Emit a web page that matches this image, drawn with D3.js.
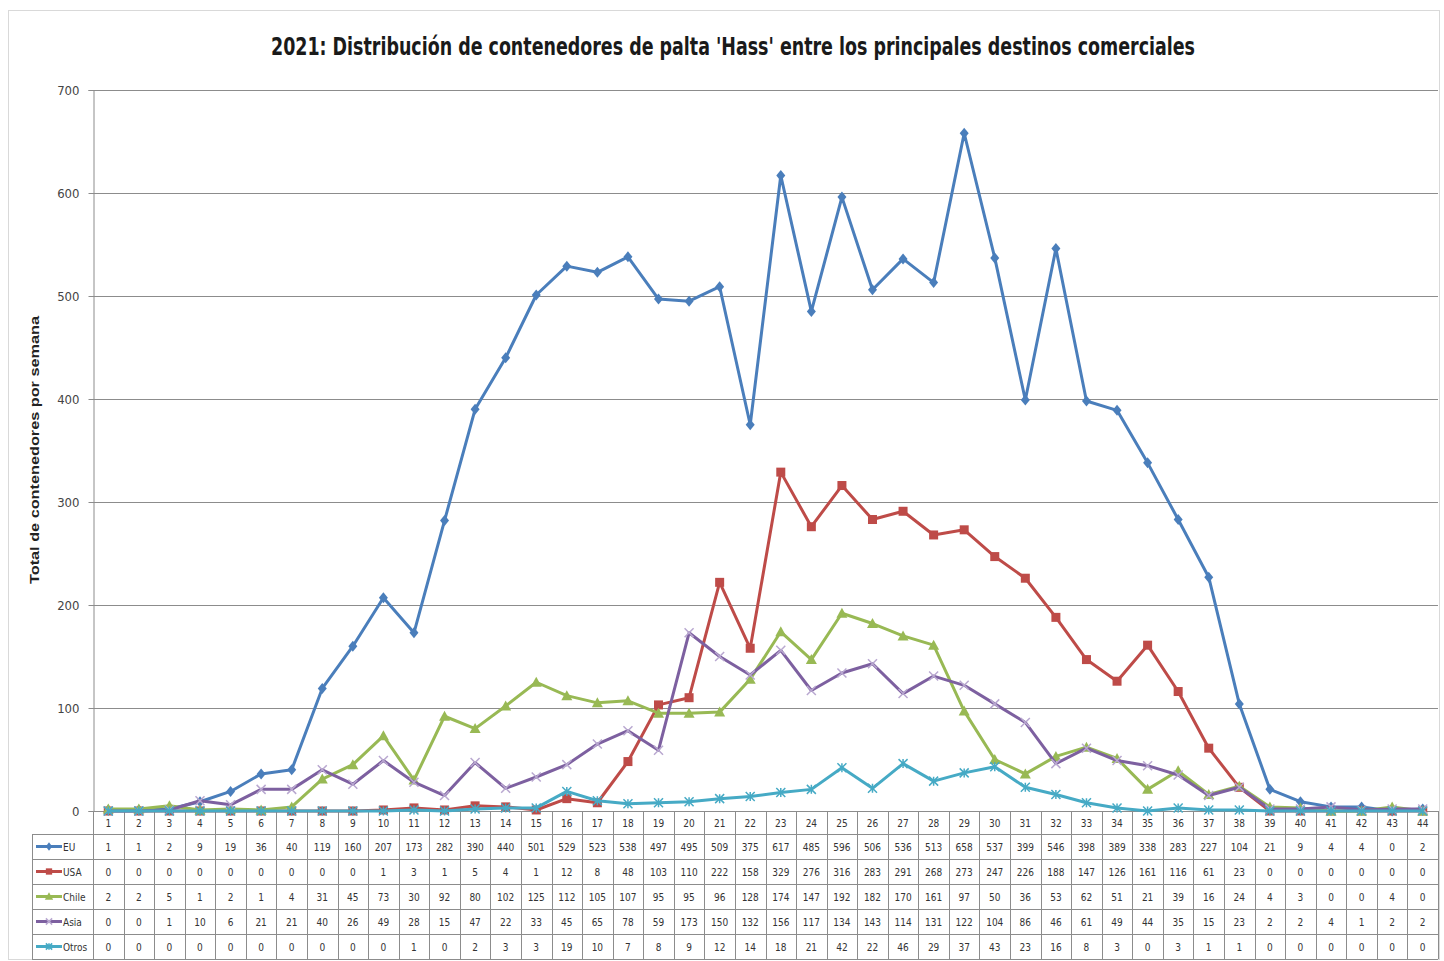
<!DOCTYPE html>
<html>
<head>
<meta charset="utf-8">
<script src="https://cdn.jsdelivr.net/npm/d3@7"></script>
<style>
  body { margin: 0; background: #fff; }
  svg text { font-family: "Liberation Sans Narrow", "DejaVu Sans Condensed", "Liberation Sans", sans-serif; }
</style>
</head>
<body>
<div id="chart"></div>
<script>
// weekly container counts per destination
let weeks = d3.range(1, 45);
let euValues = [1,1,2,9,19,36,40,119,160,207,173,282,390,440,501,529,523,538,497,495,509,375,617,485,596,506,536,513,658,537,399,546,398,389,338,283,227,104,21,9,4,4,0,2];
let usaValues = [0,0,0,0,0,0,0,0,0,1,3,1,5,4,1,12,8,48,103,110,222,158,329,276,316,283,291,268,273,247,226,188,147,126,161,116,61,23,0,0,0,0,0,0];
let chileValues = [2,2,5,1,2,1,4,31,45,73,30,92,80,102,125,112,105,107,95,95,96,128,174,147,192,182,170,161,97,50,36,53,62,51,21,39,16,24,4,3,0,0,4,0];
let asiaValues = [0,0,1,10,6,21,21,40,26,49,28,15,47,22,33,45,65,78,59,173,150,132,156,117,134,143,114,131,122,104,86,46,61,49,44,35,15,23,2,2,4,1,2,2];
let otrosValues = [0,0,0,0,0,0,0,0,0,0,1,0,2,3,3,19,10,7,8,9,12,14,18,21,42,22,46,29,37,43,23,16,8,3,0,3,1,1,0,0,0,0,0,0];
let seriesNames = ["EU", "USA", "Chile", "Asia", "Otros"];
let yTicks = [0, 100, 200, 300, 400, 500, 600, 700];

let series = [
  { name: "EU", values: euValues, color: "#4a7ebb", marker: "diamond" },
  { name: "USA", values: usaValues, color: "#be4b48", marker: "square" },
  { name: "Chile", values: chileValues, color: "#98b954", marker: "triangle" },
  { name: "Asia", values: asiaValues, color: "#7d60a0", marker: "cross" },
  { name: "Otros", values: otrosValues, color: "#46aac5", marker: "star" }
];

let width = 1444, height = 961;
let plot = { left: 93, right: 1438, top: 90, bottom: 811 };
let rowH = 25, headerH = 23;

let svg = d3.select("#chart").append("svg")
  .attr("width", width)
  .attr("height", height);

svg.append("rect")
  .attr("x", 8.5).attr("y", 10.5)
  .attr("width", 1431).attr("height", 949)
  .attr("fill", "#fff")
  .attr("stroke", "#d9d9d9");

let x = d3.scaleBand().domain(weeks).range([plot.left, plot.right]);
let y = d3.scaleLinear().domain([0, 700]).range([plot.bottom, plot.top]);

// title
svg.append("text")
  .attr("x", 733).attr("y", 55)
  .attr("text-anchor", "middle")
  .attr("font-size", 24)
  .attr("font-weight", "bold")
  .attr("fill", "#1a1a1a")
  .attr("textLength", 924)
  .attr("lengthAdjust", "spacingAndGlyphs")
  .text("2021: Distribución de contenedores de palta 'Hass' entre los principales destinos comerciales");

// grid + y axis
svg.append("g").selectAll("line")
  .data(yTicks.filter(d => d > 0))
  .enter().append("line")
  .attr("x1", plot.left).attr("x2", plot.right)
  .attr("y1", d => Math.round(y(d)) + 0.5).attr("y2", d => Math.round(y(d)) + 0.5)
  .attr("stroke", "#8c8c8c");

let yAxis = svg.append("g")
  .attr("transform", "translate(" + (plot.left + 0.5) + ",0)")
  .call(d3.axisLeft(y).tickValues(yTicks).tickSize(5).tickPadding(9));
yAxis.select(".domain").attr("stroke", "#8c8c8c");
yAxis.selectAll(".tick line").attr("stroke", "#8c8c8c");
yAxis.selectAll(".tick text")
  .attr("font-size", 13)
  .attr("fill", "#444")
  .style("font-family", "'Liberation Sans Narrow', 'DejaVu Sans Condensed', sans-serif");

svg.append("text")
  .attr("transform", "translate(39,450) rotate(-90)")
  .attr("text-anchor", "middle")
  .attr("font-size", 12)
  .attr("font-weight", "bold")
  .attr("fill", "#222")
  .attr("textLength", 268)
  .attr("lengthAdjust", "spacingAndGlyphs")
  .style("font-family", "'Liberation Sans', Arial, sans-serif")
  .text("Total de contenedores por semana");

// data table
let table = svg.append("g").attr("class", "table");
let tableTop = plot.bottom + headerH;
let tableLeft = 32;

table.append("line")
  .attr("x1", plot.left).attr("x2", plot.right)
  .attr("y1", plot.bottom + 0.5).attr("y2", plot.bottom + 0.5)
  .attr("stroke", "#8c8c8c");

d3.range(6).forEach(function(i) {
  table.append("line")
    .attr("x1", tableLeft).attr("x2", plot.right)
    .attr("y1", tableTop + i * rowH + 0.5).attr("y2", tableTop + i * rowH + 0.5)
    .attr("stroke", "#8c8c8c");
});

table.append("line")
  .attr("x1", tableLeft + 0.5).attr("x2", tableLeft + 0.5)
  .attr("y1", tableTop).attr("y2", tableTop + 5 * rowH)
  .attr("stroke", "#8c8c8c");

table.selectAll("line.col")
  .data(weeks.concat([45]))
  .enter().append("line")
  .attr("class", "col")
  .attr("x1", d => Math.round(d === 45 ? plot.right : x(d)) + 0.5)
  .attr("x2", d => Math.round(d === 45 ? plot.right : x(d)) + 0.5)
  .attr("y1", plot.bottom).attr("y2", tableTop + 5 * rowH)
  .attr("stroke", "#8c8c8c");

table.selectAll("text.week")
  .data(weeks)
  .enter().append("text")
  .attr("class", "week")
  .attr("x", d => x(d) + x.bandwidth() / 2)
  .attr("y", plot.bottom + 16)
  .attr("text-anchor", "middle")
  .attr("font-size", 10)
  .attr("fill", "#333")
  .text(d => d);

series.forEach(function(s, i) {
  let cy = tableTop + i * rowH + rowH / 2;
  table.selectAll("text.v" + i)
    .data(s.values)
    .enter().append("text")
    .attr("x", (d, j) => x(weeks[j]) + x.bandwidth() / 2)
    .attr("y", cy + 4)
    .attr("text-anchor", "middle")
    .attr("font-size", 10)
    .attr("fill", "#333")
    .text(d => d);

  table.append("line")
    .attr("x1", 36).attr("x2", 62)
    .attr("y1", cy).attr("y2", cy)
    .attr("stroke", s.color).attr("stroke-width", 3);
  drawMarker(table, s, 49, cy, 0.7);

  table.append("text")
    .attr("x", 63).attr("y", cy + 4)
    .attr("font-size", 10)
    .attr("fill", "#333")
    .text(s.name);
});

// lines
let line = d3.line()
  .x((d, j) => x(weeks[j]) + x.bandwidth() / 2)
  .y(d => y(d));

series.forEach(function(s) {
  let g = svg.append("g");
  g.append("path")
    .datum(s.values)
    .attr("d", line)
    .attr("fill", "none")
    .attr("stroke", s.color)
    .attr("stroke-width", 3)
    .attr("stroke-linejoin", "round");

  s.values.forEach(function(v, j) {
    drawMarker(g, s, x(weeks[j]) + x.bandwidth() / 2, y(v), 1);
  });
});

function drawMarker(g, s, cx, cy, k) {
  let r = 4.5 * k;
  if (s.marker === "diamond") {
    g.append("path")
      .attr("d", "M" + cx + "," + (cy - r - 1) + "L" + (cx + r) + "," + cy + "L" + cx + "," + (cy + r + 1) + "L" + (cx - r) + "," + cy + "Z")
      .attr("fill", s.color);
  } else if (s.marker === "square") {
    g.append("rect")
      .attr("x", cx - r).attr("y", cy - r)
      .attr("width", 2 * r).attr("height", 2 * r)
      .attr("fill", s.color);
  } else if (s.marker === "triangle") {
    g.append("path")
      .attr("d", "M" + cx + "," + (cy - r - 1) + "L" + (cx + r + 1) + "," + (cy + r) + "L" + (cx - r - 1) + "," + (cy + r) + "Z")
      .attr("fill", s.color);
  } else if (s.marker === "cross") {
    g.append("path")
      .attr("d", "M" + (cx - r) + "," + (cy - r) + "L" + (cx + r) + "," + (cy + r) + "M" + (cx + r) + "," + (cy - r) + "L" + (cx - r) + "," + (cy + r))
      .attr("stroke", "#b9a8d0").attr("stroke-width", 1.5);
  } else {
    g.append("path")
      .attr("d", "M" + (cx - r) + "," + (cy - r) + "L" + (cx + r) + "," + (cy + r) + "M" + (cx + r) + "," + (cy - r) + "L" + (cx - r) + "," + (cy + r) + "M" + cx + "," + (cy - r) + "L" + cx + "," + (cy + r))
      .attr("stroke", s.color).attr("stroke-width", 1.5);
  }
}
</script>
</body>
</html>
